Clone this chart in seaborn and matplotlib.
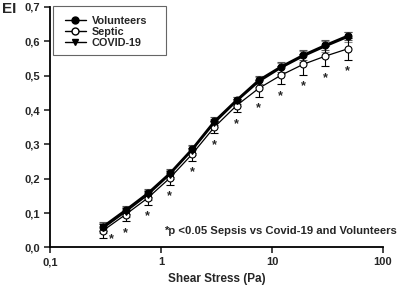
import numpy as np
import pandas as pd
import seaborn as sns
from matplotlib import pyplot as plt
from matplotlib.lines import Line2D
from matplotlib.patches import Rectangle

# shear stress (Pa)
shear = [0.30, 0.48, 0.76, 1.20, 1.90, 3.02, 4.79, 7.59, 12.0, 19.1, 30.3, 48.0]

volunteers = [0.061, 0.109, 0.158, 0.216, 0.286, 0.367, 0.429, 0.487, 0.526, 0.560, 0.589, 0.616]
volunteers_err = [0.012, 0.012, 0.012, 0.012, 0.012, 0.012, 0.010, 0.012, 0.014, 0.014, 0.014, 0.012]

septic = [0.049, 0.096, 0.144, 0.202, 0.271, 0.350, 0.413, 0.463, 0.501, 0.533, 0.557, 0.578]
septic_err = [0.020, 0.020, 0.020, 0.020, 0.018, 0.018, 0.020, 0.024, 0.026, 0.030, 0.030, 0.032]

covid = [0.056, 0.104, 0.153, 0.212, 0.282, 0.362, 0.425, 0.482, 0.522, 0.556, 0.585, 0.612]
covid_err = [0.014, 0.014, 0.014, 0.014, 0.012, 0.012, 0.012, 0.014, 0.016, 0.016, 0.016, 0.014]

groups = ["Volunteers", "Septic", "COVID-19"]
y_ticks = [0.0, 0.1, 0.2, 0.3, 0.4, 0.5, 0.6, 0.7]
x_ticks = [0.1, 1, 10, 100]

sns.set_style("ticks")
plt.rcParams["font.family"] = ["Liberation Sans", "DejaVu Sans"]
plt.rcParams["font.weight"] = "bold"

df = pd.DataFrame({
    "shear": shear * 3,
    "ei": volunteers + septic + covid,
    "group": [g for g in groups for _ in shear],
})

fig = plt.figure(figsize=(4.0, 2.89), dpi=100)
ax = fig.add_axes([0.125, 0.1436, 0.8325, 0.8324])

styles = {
    "Volunteers": dict(marker="o", mfc="black", lw=1.6),
    "Septic": dict(marker="o", mfc="white", lw=0.9),
    "COVID-19": dict(marker="v", mfc="black", lw=1.2),
}
errs = {"Volunteers": (volunteers, volunteers_err, "#555555"),
        "Septic": (septic, septic_err, "black"),
        "COVID-19": (covid, covid_err, "#888888")}

# error bars first, lines and markers on top
for g in ["COVID-19", "Volunteers", "Septic"]:
    y, e, c = errs[g]
    ax.errorbar(shear, y, yerr=e, fmt="none", ecolor=c, elinewidth=0.8,
                capsize=3, capthick=0.8, zorder=2)

for g in ["Septic", "COVID-19", "Volunteers"]:
    sub = df[df["group"] == g]
    st = styles[g]
    sns.lineplot(data=sub, x="shear", y="ei", ax=ax, color="black",
                 lw=st["lw"], marker=st["marker"], markersize=5,
                 markerfacecolor=st["mfc"], markeredgecolor="black",
                 markeredgewidth=0.8, legend=False, zorder=3)

# significance asterisks below septic points
for i, (x, y, e) in enumerate(zip(shear, septic, septic_err)):
    if i == 0:
        ax.annotate("*", (x, y), xytext=(6, -2), textcoords="offset points",
                    ha="center", va="top", fontsize=9, fontweight="bold")
    else:
        ax.annotate("*", (x, y - e), xytext=(0, -4), textcoords="offset points",
                    ha="center", va="top", fontsize=9, fontweight="bold")

ax.set_xscale("log")
ax.set_xlim(0.1, 100)
ax.set_ylim(0.0, 0.7)
ax.set_xticks(x_ticks)
ax.set_xticklabels(["0,1", "1", "10", "100"])
ax.xaxis.set_minor_locator(plt.NullLocator())
ax.set_yticks(y_ticks)
ax.set_yticklabels([f"{v:.1f}".replace(".", ",") for v in y_ticks])
ax.tick_params(axis="both", direction="out", length=4, width=1.2, labelsize=8, pad=3)
for lab in ax.get_xticklabels() + ax.get_yticklabels():
    lab.set_fontweight("bold")

for s in ["top", "right"]:
    ax.spines[s].set_visible(False)
for s in ["left", "bottom"]:
    ax.spines[s].set_linewidth(1.3)
    ax.spines[s].set_color("black")

ax.set_xlabel("Shear Stress (Pa)", fontsize=8.5, fontweight="bold", labelpad=4)
ax.set_ylabel("")

fig.text(0.005, 0.97, "EI", fontsize=11, fontweight="bold", ha="left", va="center")
fig.text(0.993, 0.20, "*p <0.05 Sepsis vs Covid-19 and Volunteers", fontsize=8.1,
         fontweight="bold", ha="right", va="center")

handles = [
    Line2D([], [], color="black", lw=1, marker="o", mfc="black", mec="black", ms=5),
    Line2D([], [], color="black", lw=1, marker="o", mfc="white", mec="black", ms=5),
    Line2D([], [], color="black", lw=1, marker="v", mfc="black", mec="black", ms=5),
]
leg = ax.legend(handles, groups, loc="upper left", bbox_to_anchor=(0.018, 1.0),
                fontsize=7.8, frameon=False, handlelength=2.0,
                handletextpad=0.5, borderpad=0.3, labelspacing=0.1)
for t in leg.get_texts():
    t.set_fontweight("bold")

# legend box, wider than its content
ax.add_patch(Rectangle((0.009, 0.800), 0.339, 0.204, transform=ax.transAxes,
                       fill=False, edgecolor="#666666", lw=0.8, clip_on=False, zorder=5))

fig.savefig("out.png", dpi=100)
